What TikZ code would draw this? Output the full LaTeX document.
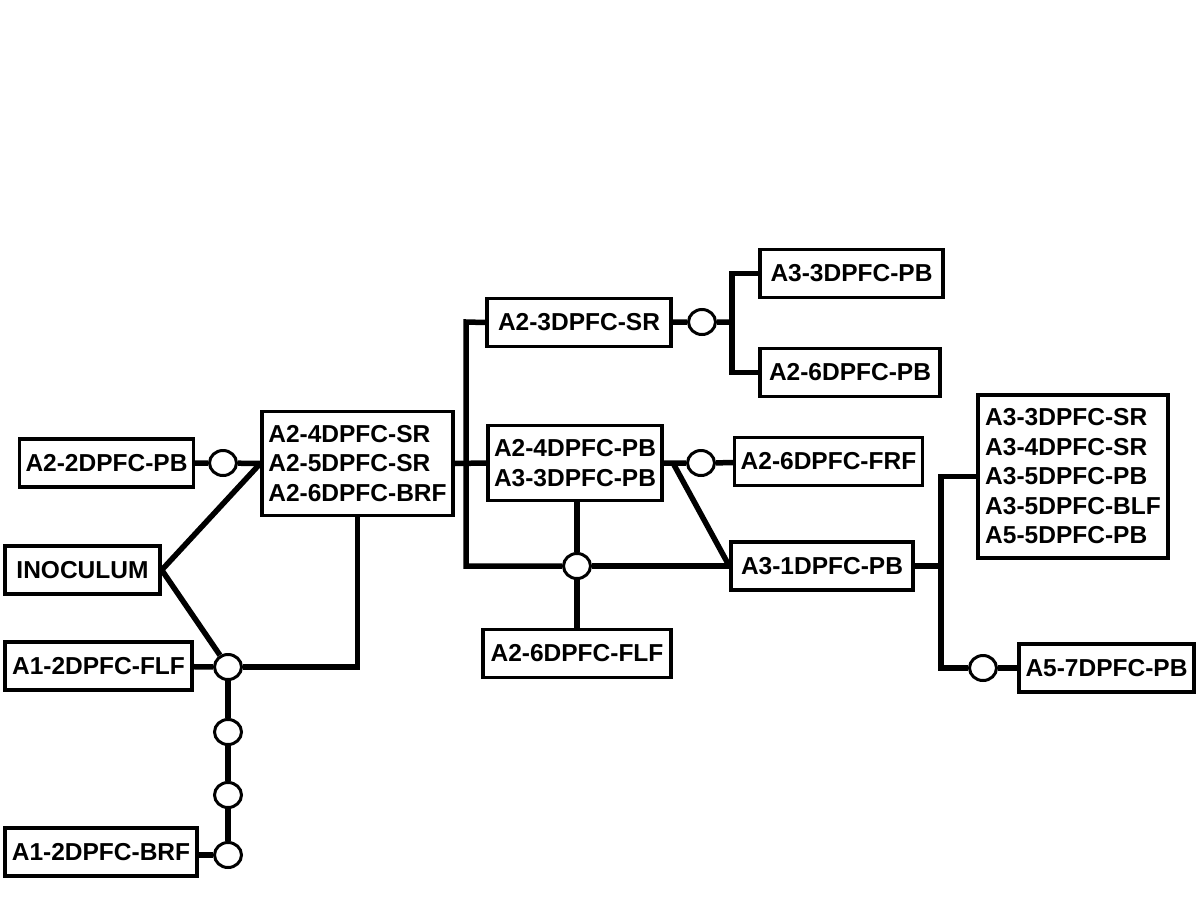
\documentclass[tikz,border=0pt]{standalone}
\usepackage{fontspec}
\setmainfont{Liberation Sans}
\usetikzlibrary{shapes.geometric}
\usetikzlibrary{positioning}

\begin{document}
\begin{tikzpicture}[
      x = 1pt, y = -1pt,
      box/.style = {
        rectangle, draw = black, line width = 3.5pt,
        inner xsep = 6pt, inner ysep = 15pt,
        minimum height = 48pt,
        font = \bfseries\fontsize{24.5}{29.5}\selectfont
      },
      multi/.style = { align = left, inner ysep = 14pt },
      joint/.style = {
        ellipse, draw = black, line width = 3pt, fill = white,
        inner sep = 0pt, minimum width = 27pt, minimum height = 25pt
      },
      link/.style = { line width = 5.5pt },
    ]

    \useasboundingbox (0,0) rectangle (1200,900);

    % left part
    \node[box, minimum width=171] (PB2) at (106.5,463) {A2-2DPFC-PB};
    \node[box, minimum width=155] (INOC) at (82.5,570) {INOCULUM};
    \node[box, minimum width=187] (FLF1) at (98.5,666) {A1-2DPFC-FLF};
    \node[box, minimum width=192] (BRF1) at (101,852) {A1-2DPFC-BRF};
    \node[box, multi, minimum width=191] (SR4) at (357.5,463.5)
      {A2-4DPFC-SR\\A2-5DPFC-SR\\A2-6DPFC-BRF};

    \node[joint] (J1) at (223,463) {};
    \node[joint] (J2) at (228,667) {};
    \node[joint] (J3) at (228,732) {};
    \node[joint] (J4) at (228,795) {};
    \node[joint] (J5) at (228,855) {};

    % middle part
    \node[box, minimum width=184] (SR3) at (579,322.5) {A2-3DPFC-SR};
    \node[box, minimum width=183] (PB33) at (851.5,273.5) {A3-3DPFC-PB};
    \node[box, minimum width=180] (PB26) at (850,372.5) {A2-6DPFC-PB};
    \node[box, multi, minimum width=173, minimum height=74] (PB4) at (575,463)
      {A2-4DPFC-PB\\A3-3DPFC-PB};
    \node[box, minimum width=187] (FRF) at (828.5,461.5) {A2-6DPFC-FRF};
    \node[box, minimum width=182] (A31) at (822,566) {A3-1DPFC-PB};
    \node[box, minimum width=188] (FLF6) at (577,653.5) {A2-6DPFC-FLF};

    \node[joint] (J6) at (701,463) {};
    \node[joint] (J7) at (577,566) {};
    \node[joint] (J8) at (702,322) {};

    % right part
    \node[box, multi, minimum width=190] (SR33) at (1073,476.5)
      {A3-3DPFC-SR\\A3-4DPFC-SR\\A3-5DPFC-PB\\A3-5DPFC-BLF\\A5-5DPFC-PB};
    \node[box, minimum width=175] (PB57) at (1106.5,668) {A5-7DPFC-PB};
    \node[joint] (J9) at (983,668) {};

    \coordinate (busT)   at (466,322);
    \coordinate (busB)   at (466,566);
    \coordinate (fork)   at (673,463);
    \coordinate (split)  at (732,322);
    \coordinate (split2) at (941,566);

    \draw[link] (PB2) -- (J1) -- (SR4.west);
    \draw[link] (INOC.east) -- (SR4.west);
    \draw[link] (INOC.east) -- (J2);
    \draw[link] (FLF1) -- (J2);
    \draw[link] (J2) -- (SR4.south |- J2) -- (SR4.south);
    \draw[link] (J2) -- (J3) -- (J4) -- (J5);
    \draw[link] (BRF1.east |- J5) -- (J5);

    \draw[link] (SR4.east) -- (PB4.west);
    \draw[link] (SR3.west) -- (busT) -- (busB) -- (J7);
    \draw[link] (J7) -- (A31.west);
    \draw[link] (PB4.south -| J7) -- (J7) -- (FLF6);
    \draw[link] (PB4.east) -- (J6) -- (FRF);
    \draw[link] (fork) -- (A31.west);
    \draw[link] (SR3) -- (J8) -- (split);
    \draw[link] (PB33.west) -| (split) |- (PB26.west);

    \draw[link] (A31.east) -- (split2);
    \draw[link] (SR33.west) -| (split2) |- (J9);
    \draw[link] (J9) -- (PB57);
  \end{tikzpicture}
\end{document}
